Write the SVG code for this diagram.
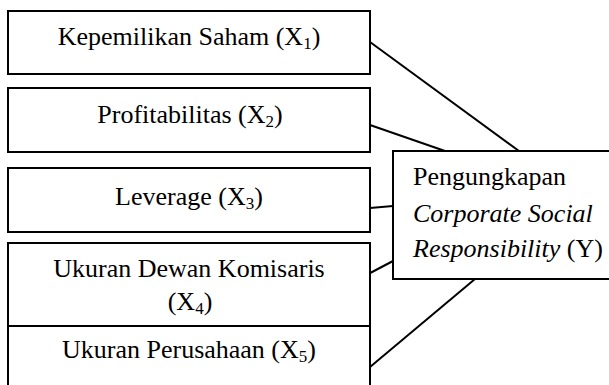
<svg xmlns="http://www.w3.org/2000/svg" width="609" height="385" viewBox="0 0 609 385">
<style>
.box{fill:#fff;stroke:#000;stroke-width:2}
.ln{fill:none;stroke:#000;stroke-width:2}
text{font-family:"Liberation Serif","Times New Roman",serif;font-size:26px;fill:#000}
.c{text-anchor:middle}
.i{font-style:italic}
.sub{font-size:17px}
</style>
<rect width="609" height="385" fill="#fff"/>
<g id="connectors">
<line class="ln" x1="370" y1="42" x2="519" y2="151"/>
<line class="ln" x1="370" y1="125" x2="445" y2="151"/>
<line class="ln" x1="370" y1="208" x2="393" y2="206"/>
<line class="ln" x1="355" y1="281" x2="393" y2="261"/>
<line class="ln" x1="370" y1="367" x2="475" y2="279"/>
</g>
<g id="x1">
<rect class="box" x="8" y="11" width="362" height="63"/>
<text class="c" x="189" y="45">Kepemilikan Saham (X<tspan class="sub" dy="4">1</tspan><tspan dy="-4">)</tspan></text>
</g>
<g id="x2">
<rect class="box" x="8" y="88" width="362" height="64"/>
<text class="c" x="190" y="123">Profitabilitas (X<tspan class="sub" dy="4">2</tspan><tspan dy="-4">)</tspan></text>
</g>
<g id="x3">
<rect class="box" x="8" y="168" width="362" height="64"/>
<text class="c" x="189" y="205">Leverage (X<tspan class="sub" dy="4">3</tspan><tspan dy="-4">)</tspan></text>
</g>
<g id="x4">
<rect class="box" x="8" y="243" width="362" height="83"/>
<text class="c" x="189" y="277">Ukuran Dewan Komisaris</text>
<text class="c" x="190" y="310">(X<tspan class="sub" dy="4">4</tspan><tspan dy="-4">)</tspan></text>
</g>
<g id="x5">
<path class="ln" d="M8,387 V326 H370 V387"/>
<text class="c" x="189" y="358">Ukuran Perusahaan (X<tspan class="sub" dy="4">5</tspan><tspan dy="-4">)</tspan></text>
</g>
<g id="y">
<rect class="box" x="393" y="151" width="220" height="128"/>
<text x="413" y="185">Pengungkapan</text>
<text x="413" y="222" class="i">Corporate Social</text>
<text x="413" y="257"><tspan class="i">Responsibility</tspan> (Y)</text>
</g>
</svg>
